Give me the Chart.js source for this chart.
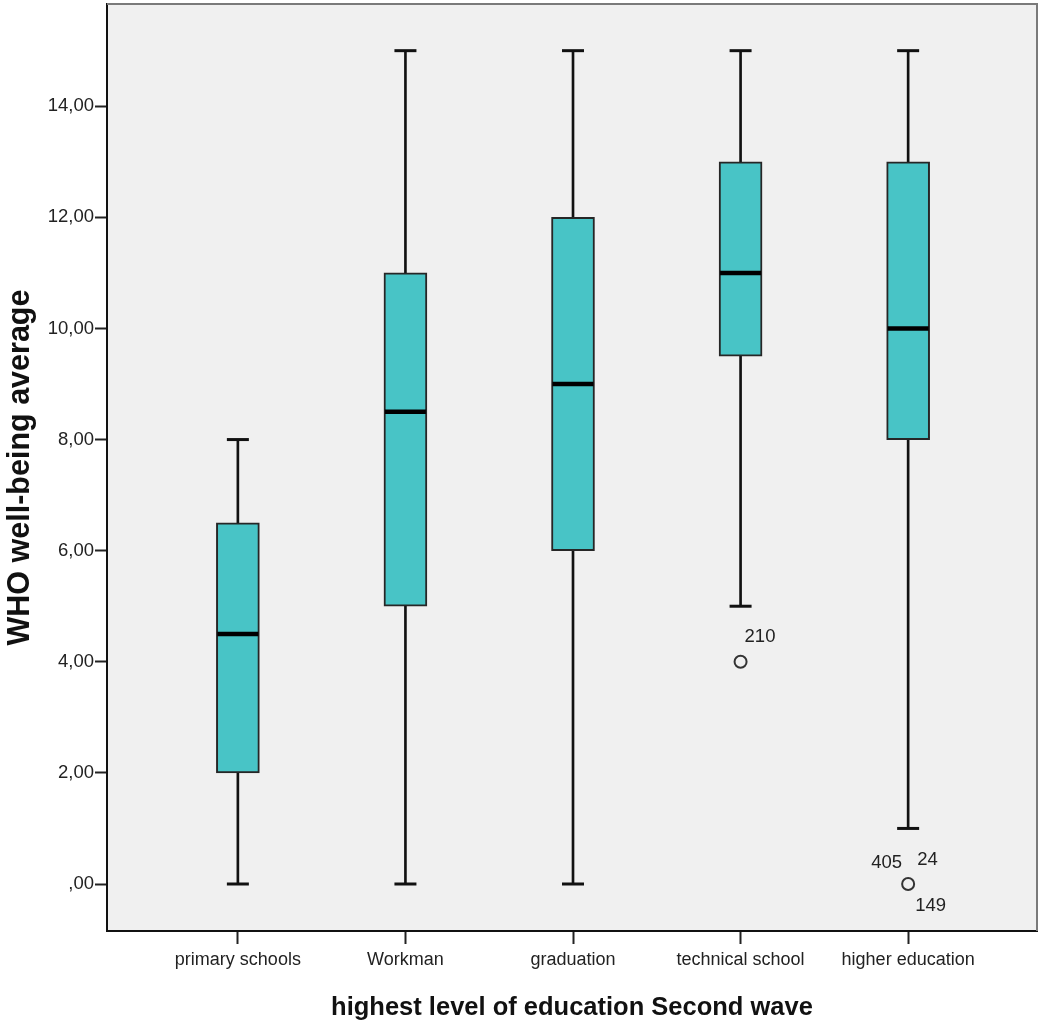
<!DOCTYPE html>
<html>
<head>
<meta charset="utf-8">
<script src="https://cdn.jsdelivr.net/npm/chart.js@4.4.1/dist/chart.umd.min.js"></script>
<style>
  html, body { margin: 0; padding: 0; background: #ffffff; }
  #wrap { width: 1041px; height: 1028px; position: relative; }
</style>
</head>
<body>
<div id="wrap"><canvas id="c"></canvas></div>
<script>
// ---- data ----
const categories = ['primary schools', 'Workman', 'graduation', 'technical school', 'higher education'];
const whiskerLow  = [0, 0, 0, 5, 1];
const quartile1   = [2, 5, 6, 9.5, 8];
const medians     = [4.5, 8.5, 9, 11, 10];
const quartile3   = [6.5, 11, 12, 13, 13];
const whiskerHigh = [8, 15, 15, 15, 15];
const outlierCategory = [3, 4];
const outlierValue    = [4, 0];
const outlierIds      = [['210'], ['405', '24', '149']];
const yTickValues = [0, 2, 4, 6, 8, 10, 12, 14];

const TICK_FONT = "'Liberation Sans', Arial, sans-serif";
const TITLE_FONT = "'Liberation Sans', Arial, sans-serif";

// label placement styles (offset from point pixel, alignment)
const idStyles = {
  '210': { dx: 4, dy: -25, align: 'left' },
  '405': { dx: -6, dy: -21, align: 'right' },
  '24':  { dx: 9, dy: -24, align: 'left' },
  '149': { dx: 7, dy: 22, align: 'left' }
};

const frame = {
  id: 'frame',
  beforeDraw(chart) {
    const { ctx, chartArea: a } = chart;
    ctx.save();
    ctx.fillStyle = '#f0f0f0';
    ctx.fillRect(a.left, a.top, a.right - a.left, a.bottom - a.top);
    ctx.restore();
  },
  afterDraw(chart) {
    const { ctx, chartArea: a } = chart;
    ctx.save();
    ctx.strokeStyle = '#7a7a7a';
    ctx.lineWidth = 2;
    ctx.beginPath();
    ctx.moveTo(a.left, a.top);
    ctx.lineTo(a.right, a.top);
    ctx.lineTo(a.right, a.bottom);
    ctx.stroke();
    // outlier id labels
    const xs = chart.scales.x, ys = chart.scales.y;
    ctx.fillStyle = '#222';
    ctx.font = "18.5px " + TICK_FONT;
    ctx.textBaseline = 'middle';
    outlierCategory.forEach((c, i) => {
      const px = xs.getPixelForValue(c);
      const py = ys.getPixelForValue(outlierValue[i]);
      outlierIds[i].forEach(id => {
        const s = idStyles[id] || { dx: 6, dy: -22, align: 'left' };
        ctx.textAlign = s.align;
        ctx.fillText(id, px + s.dx, py + s.dy);
      });
    });
    ctx.restore();
  }
};

const idx = categories.map((_, i) => i);
const zeroPad = s => { s.paddingTop = 0; s.paddingBottom = 0; s.paddingLeft = 0; s.paddingRight = 0; };

new Chart(document.getElementById('c'), {
  type: 'bar',
  data: {
    datasets: [
      {
        label: 'lower whisker',
        data: idx.map(i => ({ x: i, y: [whiskerLow[i], quartile1[i]] })),
        backgroundColor: '#111',
        borderWidth: 0,
        grouped: false,
        barThickness: 2,
        maxBarThickness: 2,
        order: 5
      },
      {
        label: 'upper whisker',
        data: idx.map(i => ({ x: i, y: [quartile3[i], whiskerHigh[i]] })),
        backgroundColor: '#111',
        borderWidth: 0,
        grouped: false,
        barThickness: 2,
        maxBarThickness: 2,
        order: 5
      },
      {
        label: 'box',
        data: idx.map(i => ({ x: i, y: [quartile1[i], quartile3[i]] })),
        backgroundColor: '#48c4c6',
        borderColor: '#262626',
        borderWidth: 2,
        borderSkipped: false,
        grouped: false,
        barThickness: 43,
        maxBarThickness: 43,
        order: 4
      },
      {
        type: 'scatter',
        label: 'median',
        data: idx.map(i => ({ x: i, y: medians[i] })),
        pointStyle: 'line',
        radius: 20.5,
        borderColor: '#000',
        borderWidth: 4.5,
        order: 1
      },
      {
        type: 'scatter',
        label: 'caps',
        data: idx.flatMap(i => [{ x: i, y: whiskerLow[i] }, { x: i, y: whiskerHigh[i] }]),
        pointStyle: 'line',
        radius: 11,
        borderColor: '#111',
        borderWidth: 3,
        order: 2
      },
      {
        type: 'scatter',
        label: 'outliers',
        data: outlierCategory.map((c, i) => ({ x: c, y: outlierValue[i] })),
        pointStyle: 'circle',
        radius: 6,
        backgroundColor: 'rgba(0,0,0,0)',
        borderColor: '#333',
        borderWidth: 2,
        order: 1
      }
    ]
  },
  options: {
    responsive: true,
    maintainAspectRatio: false,
    animation: false,
    layout: { autoPadding: false, padding: { top: 4, right: 4, left: 0, bottom: 0 } },
    plugins: { legend: { display: false }, tooltip: { enabled: false } },
    scales: {
      x: {
        type: 'linear',
        min: -0.781,
        max: 4.769,
        offset: false,
        afterBuildTicks: s => { s.ticks = idx.map(v => ({ value: v })); },
        afterFit: s => { s.height = 97; zeroPad(s); },
        ticks: {
          autoSkip: false,
          maxRotation: 0,
          padding: 5,
          color: '#222',
          font: { family: TICK_FONT, size: 18 },
          callback: v => categories[v]
        },
        grid: { offset: false, drawOnChartArea: false, drawTicks: true, tickLength: 13, tickWidth: 2, tickColor: '#222' },
        border: { display: true, color: '#111', width: 2 },
        title: {
          display: true,
          text: 'highest level of education Second wave',
          color: '#111',
          font: { family: TITLE_FONT, size: 25.5, weight: 'bold' },
          padding: { top: 0, bottom: 5 }
        }
      },
      y: {
        type: 'linear',
        min: -0.846,
        max: 15.84,
        afterBuildTicks: s => { s.ticks = yTickValues.map(v => ({ value: v })); },
        afterFit: s => { s.width = 107; zeroPad(s); },
        ticks: {
          padding: 1,
          color: '#222',
          font: { family: TICK_FONT, size: 18.5 },
          callback: v => v === 0 ? ',00' : v.toFixed(2).replace('.', ',')
        },
        grid: { offset: false, drawOnChartArea: false, drawTicks: true, tickLength: 12, tickWidth: 2, tickColor: '#222' },
        border: { display: true, color: '#111', width: 2 },
        title: {
          display: true,
          text: 'WHO well-being average',
          color: '#111',
          font: { family: TITLE_FONT, size: 30.5, weight: 'bold' },
          padding: { top: 2, bottom: 0 }
        }
      }
    }
  },
  plugins: [frame]
});
</script>
</body>
</html>
